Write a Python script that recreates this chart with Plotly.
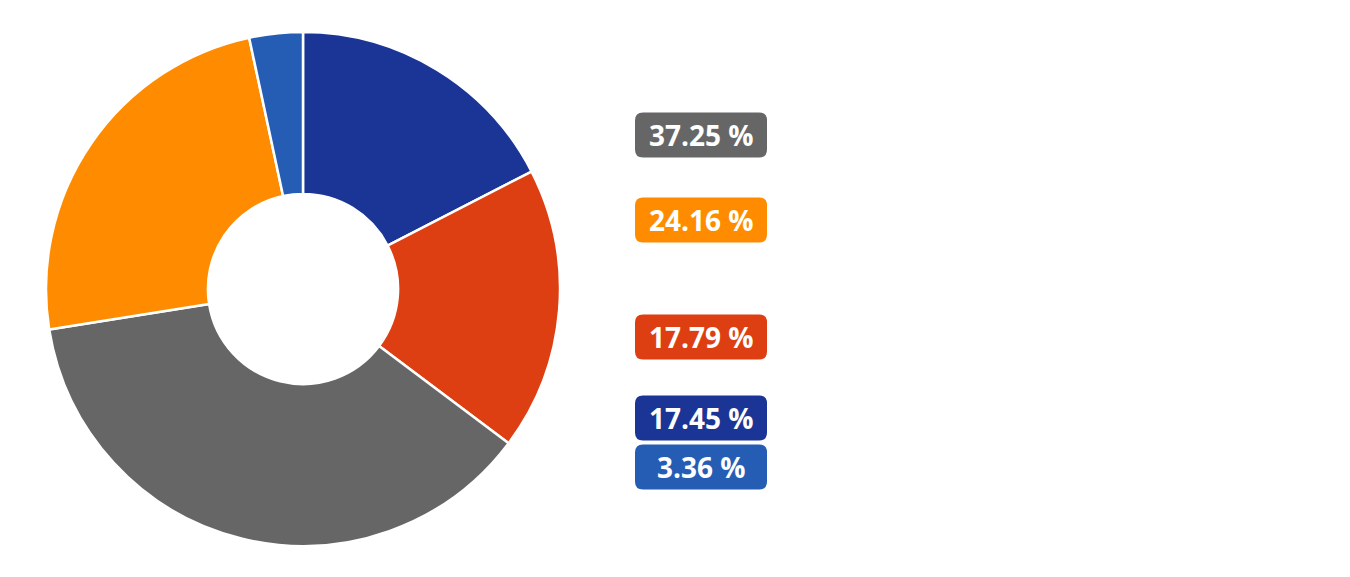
import plotly.graph_objects as go

# datos del donut (en orden horario desde las 12)
etiquetas = ['A', 'B', 'C', 'D', 'E']
valores = [17.45, 17.79, 37.25, 24.16, 3.36]
colores = ['#1a3595', '#dd3f12', '#666666', '#ff8c00', '#255db5']

W, H = 1350, 577
OFF = 8  # margen del body de la pagina

# posicion vertical (px desde arriba) de cada etiqueta, por orden de valor
badge_y = [135, 220, 337, 418, 467]
badge_x = 701
bw, bh, r = 132, 45, 8

cx, cy, R = 303 - OFF, 289 - OFF, 257

fig = go.Figure(go.Pie(
    labels=etiquetas,
    values=valores,
    hole=0.37,
    sort=False,
    direction='clockwise',
    marker=dict(colors=colores, line=dict(color='white', width=2.5)),
    textinfo='none',
    hoverinfo='label+percent',
    domain=dict(x=[(cx - R) / W, (cx + R) / W], y=[1 - (cy + R) / H, 1 - (cy - R) / H]),
    showlegend=False,
))

# rectangulo redondeado en pixeles relativo al ancla
hw, hh = bw / 2, bh / 2
path = (f'M {-hw + r},{-hh} L {hw - r},{-hh} Q {hw},{-hh} {hw},{-hh + r} '
        f'L {hw},{hh - r} Q {hw},{hh} {hw - r},{hh} L {-hw + r},{hh} '
        f'Q {-hw},{hh} {-hw},{hh - r} L {-hw},{-hh + r} Q {-hw},{-hh} {-hw + r},{-hh} Z')

orden = sorted(range(len(valores)), key=lambda i: -valores[i])
for pos, i in enumerate(orden):
    xp = (badge_x - OFF) / W
    yp = 1 - (badge_y[pos] - OFF) / H
    fig.add_shape(type='path', path=path, xref='paper', yref='paper',
                  xsizemode='pixel', ysizemode='pixel',
                  xanchor=xp, yanchor=yp,
                  fillcolor=colores[i], line=dict(width=0))
    fig.add_annotation(x=xp, y=yp, xref='paper', yref='paper',
                       text=f'{valores[i]:.2f} %', showarrow=False,
                       xanchor='center', yanchor='middle',
                       font=dict(family='Open Sans', size=28, color='white', weight=700))

fig.update_layout(width=W, height=H, margin=dict(l=0, r=0, t=0, b=0),
                  paper_bgcolor='white', plot_bgcolor='white')
fig.write_html('out.html')
